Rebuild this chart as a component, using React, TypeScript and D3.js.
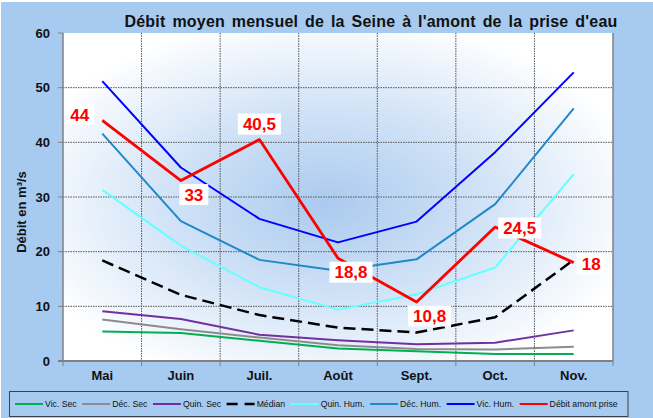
import React, { useRef, useEffect } from 'react'
import * as d3 from 'd3'

const months = ['Mai', 'Juin', 'Juil.', 'Août', 'Sept.', 'Oct.', 'Nov.']
const vicSec = [5.4, 5.1, 3.7, 2.3, 1.8, 1.3, 1.3]
const decSec = [7.6, 5.8, 4.3, 2.9, 2.2, 2.1, 2.6]
const quinSec = [9.1, 7.7, 4.8, 3.8, 3.05, 3.35, 5.6]
const median = [18.4, 12.1, 8.4, 6.1, 5.2, 8.0, 18.5]
const quinHum = [31.3, 21.1, 13.5, 9.4, 12.2, 17.1, 34.2]
const decHum = [41.6, 25.6, 18.5, 16.5, 18.6, 28.7, 46.2]
const vicHum = [51.2, 35.4, 26.0, 21.7, 25.5, 38.2, 52.8]
const debit = [44, 33, 40.5, 18.8, 10.8, 24.5, 18]
const debitLabels = ['44', '33', '40,5', '18,8', '10,8', '24,5', '18']
const yTicks = [0, 10, 20, 30, 40, 50, 60]

const FONT = '"Liberation Sans", Arial, sans-serif'

const App = () => {
  const svgRef = useRef(null)

  useEffect(() => {
    const svg = d3.select(svgRef.current)
    svg.selectAll('*').remove()

    const W = 653, H = 418
    const plot = { left: 63, right: 613, top: 33, bottom: 361 }

    const x = d3.scaleBand().domain(months).range([plot.left, plot.right]).padding(0)
    const y = d3.scaleLinear().domain([0, 60]).range([plot.bottom, plot.top])
    const cx = (m) => x(m) + x.bandwidth() / 2

    // background
    svg.append('rect').attr('width', W).attr('height', H).attr('fill', '#ffffff')
    svg.append('rect').attr('x', 1).attr('y', 2).attr('width', W - 1).attr('height', H - 2).attr('fill', '#a6caf0')

    const defs = svg.append('defs')
    const grad = defs.append('radialGradient').attr('id', 'plotGrad')
      .attr('cx', '48%').attr('cy', '52%').attr('r', '58%')
    grad.append('stop').attr('offset', '0%').attr('stop-color', '#abcaef')
    grad.append('stop').attr('offset', '45%').attr('stop-color', '#cde0f6')
    grad.append('stop').attr('offset', '100%').attr('stop-color', '#ffffff')

    svg.append('rect')
      .attr('x', plot.left).attr('y', plot.top)
      .attr('width', plot.right - plot.left).attr('height', plot.bottom - plot.top)
      .attr('fill', 'url(#plotGrad)')

    // grid
    const grid = svg.append('g')
    grid.selectAll('.hgrid')
      .data(yTicks.filter(t => t > 0 && t < 60))
      .enter().append('line')
      .attr('x1', plot.left).attr('x2', plot.right)
      .attr('y1', d => y(d)).attr('y2', d => y(d))
      .attr('stroke', '#555').attr('stroke-width', 1).attr('stroke-dasharray', '1.5,1')
    const bounds = months.slice(1).map(m => x(m))
    grid.selectAll('.vgrid')
      .data(bounds)
      .enter().append('line')
      .attr('x1', d => d).attr('x2', d => d)
      .attr('y1', plot.top).attr('y2', plot.bottom)
      .attr('stroke', '#555').attr('stroke-width', 1).attr('stroke-dasharray', '1.5,1')

    // axes
    svg.append('line').attr('x1', plot.right).attr('x2', plot.right)
      .attr('y1', plot.top).attr('y2', plot.bottom).attr('stroke', '#808080').attr('stroke-width', 1.5)
    svg.append('line').attr('x1', plot.left).attr('x2', plot.left)
      .attr('y1', plot.top).attr('y2', plot.bottom).attr('stroke', '#808080').attr('stroke-width', 1.5)
    svg.append('line').attr('x1', plot.left - 5).attr('x2', plot.right)
      .attr('y1', plot.bottom).attr('y2', plot.bottom).attr('stroke', '#808080').attr('stroke-width', 2)

    svg.selectAll('.ytick')
      .data(yTicks)
      .enter().append('line')
      .attr('x1', plot.left - 5).attr('x2', plot.left)
      .attr('y1', d => y(d)).attr('y2', d => y(d))
      .attr('stroke', '#808080').attr('stroke-width', 1)
    svg.selectAll('.ylab')
      .data(yTicks)
      .enter().append('text')
      .attr('x', 50).attr('y', d => y(d)).attr('dy', '0.36em')
      .attr('text-anchor', 'end')
      .style('font', `bold 13px ${FONT}`).attr('fill', '#111')
      .text(d => d)

    svg.selectAll('.xtick')
      .data([...months.map(m => x(m)), plot.right])
      .enter().append('line')
      .attr('x1', d => d).attr('x2', d => d)
      .attr('y1', plot.bottom).attr('y2', plot.bottom + 5)
      .attr('stroke', '#808080').attr('stroke-width', 1)
    svg.selectAll('.xlab')
      .data(months)
      .enter().append('text')
      .attr('x', d => cx(d)).attr('y', 380)
      .attr('text-anchor', 'middle')
      .style('font', `bold 13px ${FONT}`).attr('fill', '#111')
      .text(d => d)

    // y title
    svg.append('text')
      .attr('transform', 'translate(26,212) rotate(-90)')
      .attr('text-anchor', 'middle')
      .style('font', `bold 13px ${FONT}`).attr('fill', '#111')
      .text('Débit en m³/s')

    // title, extra space goes between the words
    const titleText = "Débit moyen mensuel de la Seine à l'amont de la prise d'eau"
    const title = svg.append('text')
      .attr('x', 371).attr('y', 27)
      .attr('text-anchor', 'middle')
      .style('font', `bold 16px ${FONT}`).attr('fill', '#111')
      .style('letter-spacing', '0.2px')
      .text(titleText)
    const tw = title.node().getComputedTextLength()
    const gaps = titleText.split(' ').length - 1
    title.style('word-spacing', `${Math.max(0, (493 - tw) / gaps)}px`)

    // series
    const series = [
      { name: 'Vic. Sec', values: vicSec, color: '#00b050', width: 2 },
      { name: 'Déc. Sec', values: decSec, color: '#8c8c8c', width: 2 },
      { name: 'Quin. Sec', values: quinSec, color: '#7030a0', width: 2 },
      { name: 'Médian', values: median, color: '#000000', width: 2.5, dash: '12,6' },
      { name: 'Quin. Hum.', values: quinHum, color: '#66ffff', width: 2 },
      { name: 'Déc. Hum.', values: decHum, color: '#1e88c8', width: 2 },
      { name: 'Vic. Hum.', values: vicHum, color: '#0000ff', width: 2 },
      { name: 'Débit amont prise', values: debit, color: '#ff0000', width: 2.8 },
    ]

    const line = d3.line().x((d, i) => cx(months[i])).y(d => y(d))

    svg.selectAll('.series')
      .data(series)
      .enter().append('path')
      .attr('d', d => line(d.values))
      .attr('fill', 'none')
      .attr('stroke', d => d.color)
      .attr('stroke-width', d => d.width)
      .attr('stroke-dasharray', d => d.dash || null)
      .attr('stroke-linejoin', 'round')

    // data labels of the red series
    const placement = ['left', 'belowRight', 'above', 'belowRight', 'belowRight', 'right', 'right']
    const offsets = {
      left: [-23, -6],
      above: [0, -15.5],
      belowRight: [13, 14],
      right: [26, 1],
    }
    const labels = svg.append('g')
    debit.forEach((v, i) => {
      const px = cx(months[i]), py = y(v)
      const txt = debitLabels[i]
      let [dx, dy] = offsets[placement[i]]
      const g = labels.append('g')
      const t = g.append('text')
        .attr('text-anchor', 'middle').attr('dy', '0.36em')
        .style('font', `bold 17px ${FONT}`).attr('fill', '#ff0000')
        .text(txt)
      const w = t.node().getComputedTextLength()
      if (placement[i] === 'right') dx = 8 + w / 2
      if (placement[i] === 'left') dx = -13 - w / 2
      g.insert('rect', 'text')
        .attr('x', -w / 2 - 5).attr('y', -10.5)
        .attr('width', w + 10).attr('height', 21)
        .attr('fill', '#ffffff')
      g.attr('transform', `translate(${px + dx},${py + dy})`)
    })

    // legend
    const lg = svg.append('g')
    lg.append('rect')
      .attr('x', 9.5).attr('y', 391.5).attr('width', 618.5).attr('height', 25)
      .attr('fill', 'none').attr('stroke', '#404040').attr('stroke-width', 1)
    let lx = 15
    const ly = 404
    series.forEach(s => {
      lg.append('line')
        .attr('x1', lx).attr('x2', lx + 28).attr('y1', ly).attr('y2', ly)
        .attr('stroke', s.color).attr('stroke-width', s.dash ? 2.5 : 2)
        .attr('stroke-dasharray', s.dash ? '11,7' : null)
      const t = lg.append('text')
        .attr('x', lx + 30).attr('y', ly).attr('dy', '0.35em')
        .style('font', `8.7px ${FONT}`).attr('fill', '#111')
        .text(s.name)
      lx += 30 + t.node().getComputedTextLength() + 5.5
    })
  }, [])

  return (
    <svg ref={svgRef} width={653} height={418}
      style={{ position: 'absolute', left: 0, top: 0, display: 'block' }} />
  )
}

export default App
